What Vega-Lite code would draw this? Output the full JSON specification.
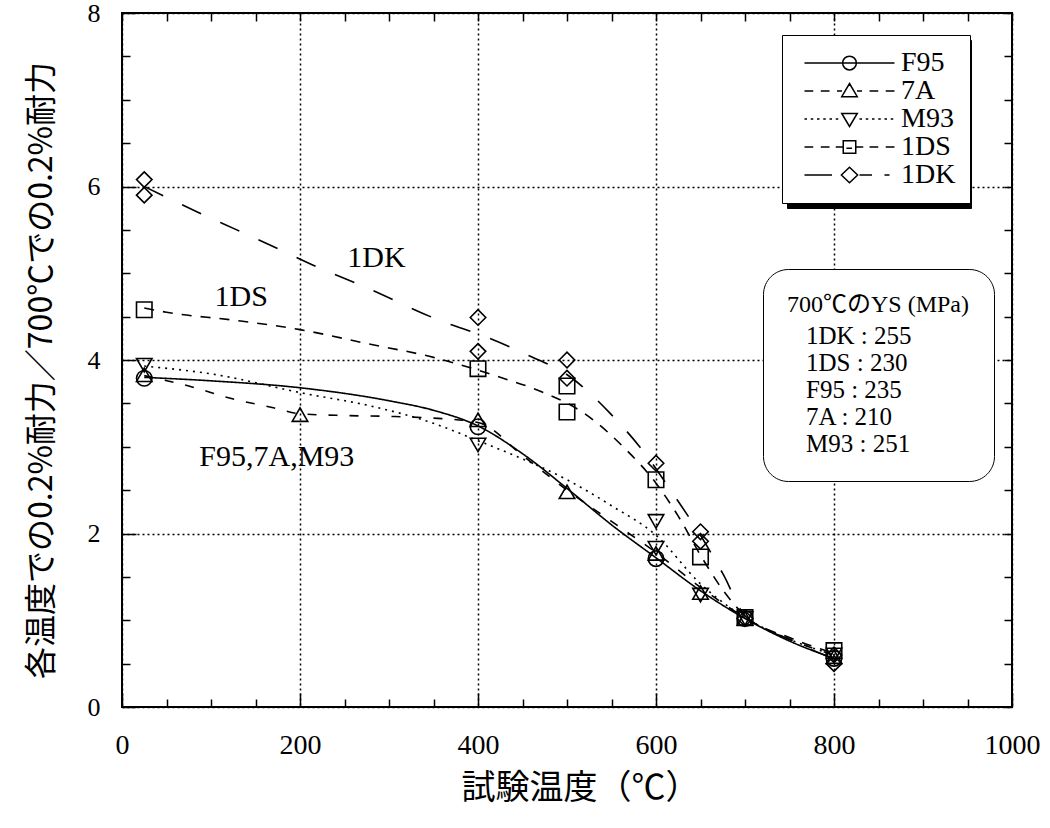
{
  "$schema": "https://vega.github.io/schema/vega-lite/v6.json",
  "width": 890,
  "height": 694,
  "autosize": {"type": "none"},
  "padding": {"left": 122, "top": 13, "right": 38, "bottom": 121},
  "background": "white",
  "config": {
    "view": {"stroke": "black", "strokeWidth": 2},
    "font": "Liberation Serif",
    "axis": {"labelColor": "black", "titleColor": "black", "tickColor": "black", "domain": false}
  },
  "datasets": {
    "curves": [
      {"series": "F95", "t": 25, "v": 3.80}, {"series": "F95", "t": 100, "v": 3.76}, {"series": "F95", "t": 200, "v": 3.68},
      {"series": "F95", "t": 300, "v": 3.53}, {"series": "F95", "t": 350, "v": 3.42}, {"series": "F95", "t": 400, "v": 3.24},
      {"series": "F95", "t": 450, "v": 2.92}, {"series": "F95", "t": 500, "v": 2.52}, {"series": "F95", "t": 550, "v": 2.10},
      {"series": "F95", "t": 600, "v": 1.72}, {"series": "F95", "t": 650, "v": 1.34}, {"series": "F95", "t": 700, "v": 1.02},
      {"series": "F95", "t": 750, "v": 0.76}, {"series": "F95", "t": 800, "v": 0.56},
      {"series": "7A", "t": 25, "v": 3.82}, {"series": "7A", "t": 75, "v": 3.70}, {"series": "7A", "t": 125, "v": 3.55},
      {"series": "7A", "t": 170, "v": 3.45}, {"series": "7A", "t": 200, "v": 3.38}, {"series": "7A", "t": 250, "v": 3.36},
      {"series": "7A", "t": 300, "v": 3.35}, {"series": "7A", "t": 350, "v": 3.33}, {"series": "7A", "t": 400, "v": 3.28},
      {"series": "7A", "t": 450, "v": 2.90}, {"series": "7A", "t": 500, "v": 2.50}, {"series": "7A", "t": 550, "v": 2.14},
      {"series": "7A", "t": 600, "v": 1.78}, {"series": "7A", "t": 650, "v": 1.38}, {"series": "7A", "t": 700, "v": 1.03},
      {"series": "7A", "t": 750, "v": 0.78}, {"series": "7A", "t": 800, "v": 0.60},
      {"series": "M93", "t": 25, "v": 3.93}, {"series": "M93", "t": 100, "v": 3.84}, {"series": "M93", "t": 207, "v": 3.61},
      {"series": "M93", "t": 275, "v": 3.48}, {"series": "M93", "t": 350, "v": 3.27}, {"series": "M93", "t": 400, "v": 3.07},
      {"series": "M93", "t": 450, "v": 2.86}, {"series": "M93", "t": 500, "v": 2.62}, {"series": "M93", "t": 550, "v": 2.32},
      {"series": "M93", "t": 600, "v": 1.98}, {"series": "M93", "t": 650, "v": 1.42}, {"series": "M93", "t": 700, "v": 1.03},
      {"series": "M93", "t": 750, "v": 0.78}, {"series": "M93", "t": 800, "v": 0.60},
      {"series": "1DS", "t": 25, "v": 4.60}, {"series": "1DS", "t": 50, "v": 4.55}, {"series": "1DS", "t": 125, "v": 4.46},
      {"series": "1DS", "t": 200, "v": 4.35}, {"series": "1DS", "t": 275, "v": 4.19}, {"series": "1DS", "t": 350, "v": 4.03},
      {"series": "1DS", "t": 425, "v": 3.80}, {"series": "1DS", "t": 470, "v": 3.64}, {"series": "1DS", "t": 520, "v": 3.38},
      {"series": "1DS", "t": 565, "v": 2.98}, {"series": "1DS", "t": 600, "v": 2.58}, {"series": "1DS", "t": 625, "v": 2.20},
      {"series": "1DS", "t": 650, "v": 1.75}, {"series": "1DS", "t": 675, "v": 1.35}, {"series": "1DS", "t": 700, "v": 1.05},
      {"series": "1DS", "t": 750, "v": 0.80}, {"series": "1DS", "t": 800, "v": 0.62},
      {"series": "1DK", "t": 25, "v": 6.00}, {"series": "1DK", "t": 84, "v": 5.71}, {"series": "1DK", "t": 129, "v": 5.50},
      {"series": "1DK", "t": 178, "v": 5.27}, {"series": "1DK", "t": 222, "v": 5.06}, {"series": "1DK", "t": 271, "v": 4.85},
      {"series": "1DK", "t": 361, "v": 4.44}, {"series": "1DK", "t": 408, "v": 4.27}, {"series": "1DK", "t": 455, "v": 4.06},
      {"series": "1DK", "t": 503, "v": 3.81}, {"series": "1DK", "t": 548, "v": 3.39}, {"series": "1DK", "t": 590, "v": 2.89},
      {"series": "1DK", "t": 619, "v": 2.46}, {"series": "1DK", "t": 650, "v": 1.98}, {"series": "1DK", "t": 676, "v": 1.52},
      {"series": "1DK", "t": 700, "v": 1.05}, {"series": "1DK", "t": 750, "v": 0.78}, {"series": "1DK", "t": 800, "v": 0.55}
    ],
    "points": [
      {"series": "F95", "t": 25, "v": 3.79}, {"series": "F95", "t": 400, "v": 3.23}, {"series": "F95", "t": 600, "v": 1.71},
      {"series": "F95", "t": 700, "v": 1.02}, {"series": "F95", "t": 800, "v": 0.56},
      {"series": "7A", "t": 25, "v": 3.83}, {"series": "7A", "t": 200, "v": 3.37}, {"series": "7A", "t": 400, "v": 3.31},
      {"series": "7A", "t": 500, "v": 2.48}, {"series": "7A", "t": 600, "v": 1.77}, {"series": "7A", "t": 650, "v": 1.32},
      {"series": "7A", "t": 700, "v": 1.02}, {"series": "7A", "t": 800, "v": 0.58},
      {"series": "M93", "t": 25, "v": 3.94}, {"series": "M93", "t": 400, "v": 3.02}, {"series": "M93", "t": 600, "v": 2.14},
      {"series": "M93", "t": 600, "v": 1.83}, {"series": "M93", "t": 650, "v": 1.29}, {"series": "M93", "t": 700, "v": 1.02},
      {"series": "M93", "t": 800, "v": 0.60},
      {"series": "1DS", "t": 25, "v": 4.58}, {"series": "1DS", "t": 400, "v": 3.90}, {"series": "1DS", "t": 500, "v": 3.70},
      {"series": "1DS", "t": 500, "v": 3.40}, {"series": "1DS", "t": 600, "v": 2.62}, {"series": "1DS", "t": 650, "v": 1.73},
      {"series": "1DS", "t": 700, "v": 1.03}, {"series": "1DS", "t": 800, "v": 0.65},
      {"series": "1DK", "t": 25, "v": 6.08}, {"series": "1DK", "t": 25, "v": 5.90}, {"series": "1DK", "t": 400, "v": 4.49},
      {"series": "1DK", "t": 400, "v": 4.10}, {"series": "1DK", "t": 500, "v": 4.00}, {"series": "1DK", "t": 500, "v": 3.79},
      {"series": "1DK", "t": 600, "v": 2.81}, {"series": "1DK", "t": 650, "v": 2.02}, {"series": "1DK", "t": 650, "v": 1.91},
      {"series": "1DK", "t": 700, "v": 1.02}, {"series": "1DK", "t": 800, "v": 0.60}, {"series": "1DK", "t": 800, "v": 0.50}
    ],
    "notes": [
      {"t": 286, "v": 5.18, "label": "1DK"},
      {"t": 134, "v": 4.73, "label": "1DS"},
      {"t": 174, "v": 2.88, "label": "F95,7A,M93"}
    ],
    "ys": [
      {"series": "1DK", "ys": 255, "entry": "1DK : 255"},
      {"series": "1DS", "ys": 230, "entry": "1DS : 230"},
      {"series": "F95", "ys": 235, "entry": "F95 : 235"},
      {"series": "7A", "ys": 210, "entry": "7A  : 210"},
      {"series": "M93", "ys": 251, "entry": "M93 : 251"}
    ]
  },
  "layer": [
    {
      "data": {"name": "curves"},
      "mark": {"type": "line", "interpolate": "monotone", "color": "black", "strokeWidth": 1.6},
      "encoding": {
        "x": {
          "field": "t", "type": "quantitative",
          "scale": {"domain": [0, 1000], "nice": false, "zero": false},
          "axis": {
            "orient": "bottom", "values": [0, 200, 400, 600, 800, 1000], "format": "d",
            "grid": true, "gridColor": "black", "gridDash": [2, 3], "gridWidth": 1.5, "gridOpacity": 1,
            "ticks": true, "tickSize": -14, "tickWidth": 1.5,
            "labelFont": "Liberation Serif", "labelFontSize": 28, "labelPadding": 38,
            "labelFlush": false, "labelOverlap": false,
            "title": "試験温度（℃）", "titleFont": "Noto Sans CJK JP", "titleFontSize": 34,
            "titleFontWeight": "normal", "titlePadding": 12, "titleX": 458
          }
        },
        "y": {
          "field": "v", "type": "quantitative",
          "scale": {"domain": [0, 8], "nice": false, "zero": false},
          "axis": {
            "orient": "left", "values": [0, 2, 4, 6, 8],
            "grid": true, "gridColor": "black", "gridDash": [2, 3], "gridWidth": 1.5, "gridOpacity": 1,
            "ticks": true, "tickSize": -14, "tickWidth": 1.5,
            "labelFont": "Liberation Serif", "labelFontSize": 26, "labelPadding": 36,
            "labelFlush": false, "labelOverlap": false,
            "title": "各温度での0.2%耐力／700℃での0.2%耐力", "titleFont": "Noto Sans CJK JP", "titleFontSize": 32,
            "titleFontWeight": "normal", "titlePadding": 29, "titleY": 357
          }
        },
        "strokeDash": {
          "field": "series", "type": "nominal",
          "scale": {"domain": ["1DK", "1DS", "M93", "7A", "F95"], "range": [[21, 21], [10, 9], [2, 5], [9, 12], [1, 0]]},
          "legend": {
            "orient": "none", "legendX": 665, "legendY": 27, "title": null,
            "fillColor": "black", "strokeColor": "black", "padding": 14,
            "symbolType": "circle", "symbolSize": 625, "symbolOffset": 39.5, "labelOffset": 88.5, "symbolOpacity": 0,
            "labelExpr": "''",
            "labelFont": "Liberation Serif", "labelFontSize": 28, "labelColor": "black",
            "rowPadding": -1, "zindex": 1
          }
        }
      }
    },
    {
      "data": {"name": "points"},
      "mark": {"type": "point", "filled": false, "color": "black", "strokeWidth": 1.6, "size": 240, "opacity": 1},
      "encoding": {
        "x": {
          "field": "t", "type": "quantitative",
          "axis": {
            "orient": "bottom", "values": [50, 100, 150, 250, 300, 350, 450, 500, 550, 650, 700, 750, 850, 900, 950],
            "grid": false, "labels": false, "tickSize": -8, "tickWidth": 1.5, "title": null
          }
        },
        "y": {
          "field": "v", "type": "quantitative",
          "axis": {
            "orient": "left", "values": [0.5, 1, 1.5, 2.5, 3, 3.5, 4.5, 5, 5.5, 6.5, 7, 7.5],
            "grid": false, "labels": false, "tickSize": -8, "tickWidth": 1.5, "title": null
          }
        },
        "shape": {
          "field": "series", "type": "nominal",
          "scale": {"domain": ["F95", "7A", "M93", "1DS", "1DK"], "range": ["circle", "triangle-up", "triangle-down", "square", "diamond"]},
          "legend": null
        }
      }
    },
    {
      "data": {"name": "points"},
      "mark": {"type": "point", "filled": false, "color": "black", "strokeWidth": 1.5, "size": 625, "opacity": 0},
      "encoding": {
        "x": {"field": "t", "type": "quantitative", "axis": null},
        "y": {"field": "v", "type": "quantitative", "axis": null},
        "shape": {
          "field": "series", "type": "nominal",
          "scale": {
            "domain": ["F95", "7A", "M93", "1DS", "1DK"],
            "range": [
              "M-3.6,0L3.6,0M-0.55,0A0.55,0.55,0,1,0,0.55,0A0.55,0.55,0,1,0,-0.55,0",
              "M-3.6,0L-2.9,0M-2.3,0L-1.6,0M-1,0L-0.6,0M0.6,0L1,0M1.6,0L2.3,0M2.9,0L3.6,0M0,-0.6L0.62,0.45L-0.62,0.45Z",
              "M-3.6,0L-3.4,0M-3.1,0L-2.9,0M-2.6,0L-2.4,0M-2.1,0L-1.9,0M-1.6,0L-1.4,0M-1.1,0L-0.9,0M0.8,0L1,0M1.3,0L1.5,0M1.8,0L2,0M2.3,0L2.5,0M2.8,0L3,0M3.3,0L3.5,0M0,0.6L0.62,-0.45L-0.62,-0.45Z",
              "M-3.6,0L-2.9,0M-2.3,0L-1.6,0M-1.1,0L-0.55,0M0.55,0L1.1,0M1.6,0L2.3,0M2.9,0L3.6,0M-0.5,-0.5L0.5,-0.5L0.5,0.5L-0.5,0.5ZM-0.25,0.1L0.2,0.1",
              "M-3.6,0L-1.4,0M0,-0.62L0.65,0L0,0.62L-0.65,0ZM0.8,0L1.8,0M2.8,0L3.2,0"
            ]
          },
          "legend": {
            "orient": "none", "legendX": 660, "legendY": 22, "title": null,
            "fillColor": "white", "strokeColor": "black", "padding": 14,
            "symbolSize": 625, "symbolOffset": 39.5, "labelOffset": 37.5,
            "symbolOpacity": 1, "symbolStrokeColor": "black", "symbolStrokeWidth": 1.5, "symbolFillColor": "transparent",
            "labelFont": "Liberation Serif", "labelFontSize": 28, "labelColor": "black",
            "rowPadding": -1, "zindex": 2
          }
        }
      }
    },
    {
      "data": {"name": "notes"},
      "mark": {"type": "text", "font": "Liberation Serif", "fontSize": 30, "color": "black"},
      "encoding": {
        "x": {
          "field": "t", "type": "quantitative",
          "axis": {
            "orient": "top", "values": [0, 50, 100, 150, 200, 250, 300, 350, 400, 450, 500, 550, 600, 650, 700, 750, 800, 850, 900, 950, 1000],
            "grid": false, "labels": false, "tickSize": -8, "tickWidth": 1.5, "title": null
          }
        },
        "y": {
          "field": "v", "type": "quantitative",
          "axis": {
            "orient": "right", "values": [0, 0.5, 1, 1.5, 2, 2.5, 3, 3.5, 4, 4.5, 5, 5.5, 6, 6.5, 7, 7.5, 8],
            "grid": false, "labels": false, "tickSize": -8, "tickWidth": 1.5, "title": null
          }
        },
        "text": {"field": "label"}
      }
    },
    {
      "data": {"name": "ys"},
      "mark": {"type": "point", "opacity": 0},
      "encoding": {
        "color": {
          "field": "entry", "type": "nominal",
          "scale": {"domain": ["1DK : 255", "1DS : 230", "F95 : 235", "7A  : 210", "M93 : 251"], "range": ["black", "black", "black", "black", "black"]},
          "legend": {
            "orient": "none", "legendX": 641, "legendY": 256,
            "title": "700℃のYS (MPa)", "titleFont": "Liberation Serif, Noto Sans CJK JP", "titleFontSize": 24,
            "titleFontWeight": "normal", "titleColor": "black", "titlePadding": 6, "titleLimit": 400,
            "cornerRadius": 25, "fillColor": "white", "strokeColor": "black", "padding": 24,
            "symbolSize": 0, "symbolOpacity": 0, "symbolOffset": 0, "labelOffset": -6,
            "labelFont": "Liberation Serif", "labelFontSize": 25, "labelColor": "black",
            "rowPadding": 1, "zindex": 2
          }
        }
      }
    }
  ],
  "resolve": {
    "axis": {"x": "independent", "y": "independent"},
    "scale": {"shape": "independent"}
  }
}
